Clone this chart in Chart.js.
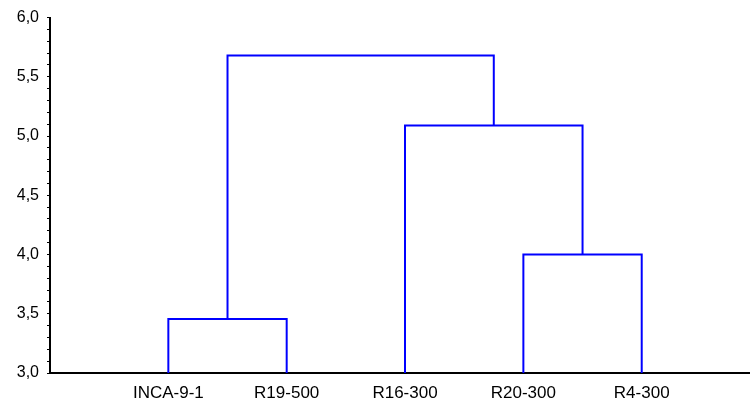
<!DOCTYPE html>
<html>
<head>
<meta charset="utf-8">
<script src="https://cdn.jsdelivr.net/npm/chart.js@4"></script>
<style>
body { margin: 0; background: #fff; }
#wrap { width: 750px; height: 400px; }
</style>
</head>
<body>
<div id="wrap"><canvas id="myChart"></canvas></div>
<script>
const leaves = ['INCA-9-1', 'R19-500', 'R16-300', 'R20-300', 'R4-300'];
// joined node pairs: 0-4 are the leaves, 5.. are the clusters in merge order
const mergePairs = [[0, 1], [3, 4], [2, 6], [5, 7]];
const mergeHeights = [3.455, 4.0, 5.09, 5.68];
const yTicks = [3.0, 3.5, 4.0, 4.5, 5.0, 5.5, 6.0];
const baseHeight = 3.0;

const nodeX = leaves.map((l, i) => i + 1);
const nodeY = leaves.map(() => baseHeight);

const datasets = mergePairs.map(([a, b], i) => {
    const h = mergeHeights[i];
    const pts = [
        { x: nodeX[a], y: nodeY[a] },
        { x: nodeX[a], y: h },
        { x: nodeX[b], y: h },
        { x: nodeX[b], y: nodeY[b] },
    ];
    nodeX.push((nodeX[a] + nodeX[b]) / 2);
    nodeY.push(h);
    return {
        data: pts,
        showLine: true,
        borderColor: '#0000ff',
        borderWidth: 2,
        pointRadius: 0,
        fill: false,
        tension: 0,
    };
});

const ctx = document.getElementById('myChart').getContext('2d');

let myChart = new Chart(ctx, {
    type: 'scatter',
    data: { datasets: datasets },
    options: {
        responsive: true,
        maintainAspectRatio: false,
        animation: false,
        layout: { padding: { top: 15, right: 0, left: 0, bottom: 0 } },
        plugins: {
            legend: { display: false },
            tooltip: { enabled: false },
        },
        scales: {
            x: {
                type: 'linear',
                min: 0,
                max: 5.915,
                z: 1,
                afterBuildTicks: (axis) => {
                    axis.ticks = leaves.map((l, i) => ({ value: i + 1 }));
                },
                afterFit: (axis) => { axis.height = 27; },
                grid: { drawOnChartArea: false, drawTicks: false },
                border: { display: true, color: '#000', width: 2 },
                ticks: {
                    autoSkip: false,
                    maxRotation: 0,
                    padding: 10,
                    color: '#000',
                    font: { family: '"Liberation Sans", Arial', size: 17 },
                    callback: (v) => leaves[Math.round(v) - 1],
                },
            },
            y: {
                min: 3,
                max: 6,
                z: 1,
                afterFit: (axis) => { axis.width = 50; },
                grid: { drawOnChartArea: false, drawTicks: true, tickLength: 3, color: '#000', lineWidth: 1 },
                border: { display: true, color: '#000', width: 2 },
                ticks: {
                    stepSize: 0.1,
                    maxTicksLimit: 40,
                    autoSkip: false,
                    padding: 8,
                    color: '#000',
                    font: { family: '"Liberation Sans", Arial', size: 16 },
                    callback: (v) => yTicks.some((t) => Math.abs(t - v) < 1e-6) ? v.toFixed(1).replace('.', ',') : '',
                },
            },
        },
    },
});
</script>
</body>
</html>
